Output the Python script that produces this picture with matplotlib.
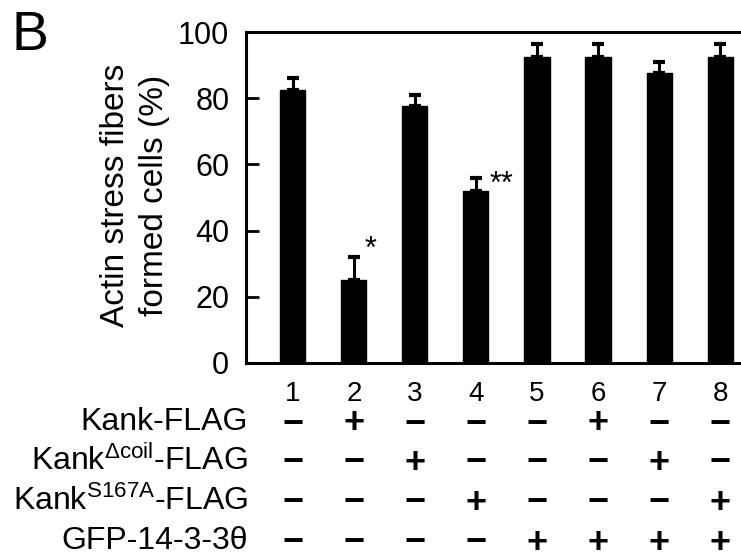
import matplotlib
matplotlib.use("Agg")
import matplotlib.pyplot as plt
import matplotlib.transforms as mtransforms
import numpy as np

plt.rcParams['font.family'] = ['Liberation Sans', 'DejaVu Sans']
plt.rcParams['mathtext.fontset'] = 'custom'
plt.rcParams['mathtext.rm'] = 'Liberation Sans'
plt.rcParams['mathtext.it'] = 'Liberation Sans:italic'
plt.rcParams['mathtext.bf'] = 'Liberation Sans:bold'
plt.rcParams['mathtext.default'] = 'regular'

# ---- data ----
lanes = ['1', '2', '3', '4', '5', '6', '7', '8']
values = [82.5, 25.0, 77.5, 52.0, 92.5, 92.5, 87.5, 92.5]
errors = [3.5, 7.0, 3.5, 4.0, 4.0, 4.0, 3.5, 4.0]
row_labels = ['Kank-FLAG', 'Kank$^{Δcoil}$-FLAG', 'Kank$^{S167A}$-FLAG', 'GFP-14-3-3θ']
kank_flag = ['-', '+', '-', '-', '-', '+', '-', '-']
kank_dcoil = ['-', '-', '+', '-', '-', '-', '+', '-']
kank_s167a = ['-', '-', '-', '+', '-', '-', '-', '+']
gfp_1433 = ['-', '-', '-', '-', '+', '+', '+', '+']
sig_lanes = [2, 4]
sig_marks = ['*', '**']
sig_levels = [34.3, 53.8]
yticks = [0, 20, 40, 60, 80, 100]
ylabel = 'Actin stress fibers\nformed cells (%)'
panel = 'B'

W, H = 741, 560
fig = plt.figure(figsize=(W / 100, H / 100), dpi=100)
ax = fig.add_axes([246 / W, 1 - 363 / H, 1 - 246 / W, (363 - 32) / H])

x = np.arange(1, len(lanes) + 1)
ax.bar(x, values, width=0.41, color='black', edgecolor='black', zorder=2)
ax.errorbar(x, values, yerr=[np.zeros(len(errors)), errors], fmt='none',
            ecolor='black', elinewidth=2.2, capsize=4, capthick=3, zorder=3)

ax.set_xlim(0.23, 8.344)
ax.set_ylim(0, 100)
ax.set_yticks(yticks)
ax.set_yticklabels([str(t) for t in yticks], fontsize=22)
ax.tick_params(axis='y', direction='in', length=9, width=2, pad=12)
ax.set_xticks(x)
ax.set_xticklabels(lanes, fontsize=20)
ax.tick_params(axis='x', length=0, pad=13)
ax.spines['right'].set_visible(False)
for s in ['left', 'bottom', 'top']:
    ax.spines[s].set_linewidth(2.2)

# significance
for lane, mark, lvl in zip(sig_lanes, sig_marks, sig_levels):
    i = lane - 1
    dx = 0.18 if len(mark) == 1 else 0.23
    ax.text(x[i] + dx, lvl, mark, fontsize=22, ha='left', va='center')

# y label
fig.text(135 / W, 1 - 195 / H, ylabel, rotation=90, ha='center', va='center',
         fontsize=24, multialignment='center', linespacing=1.3)

# panel letter
fig.text(12 / W, 1 - 10 / H, panel, fontsize=40, ha='left', va='top')

# sign table
trans = mtransforms.blended_transform_factory(ax.transData, fig.transFigure)
rows = [kank_flag, kank_dcoil, kank_s167a, gfp_1433]
row_y = [422, 461, 501, 541]
for lab, signs, yy in zip(row_labels, rows, row_y):
    fig.text(248 / W, 1 - yy / H, lab, fontsize=23, ha='right', va='center')
    for xi, s in zip(x, signs):
        ch = '+' if s == '+' else '−'
        ax.text(xi, 1 - (yy + 2) / H, ch, transform=trans, fontsize=26,
                fontweight='bold', ha='center', va='center', clip_on=False)

fig.savefig('out.png', dpi=100)
